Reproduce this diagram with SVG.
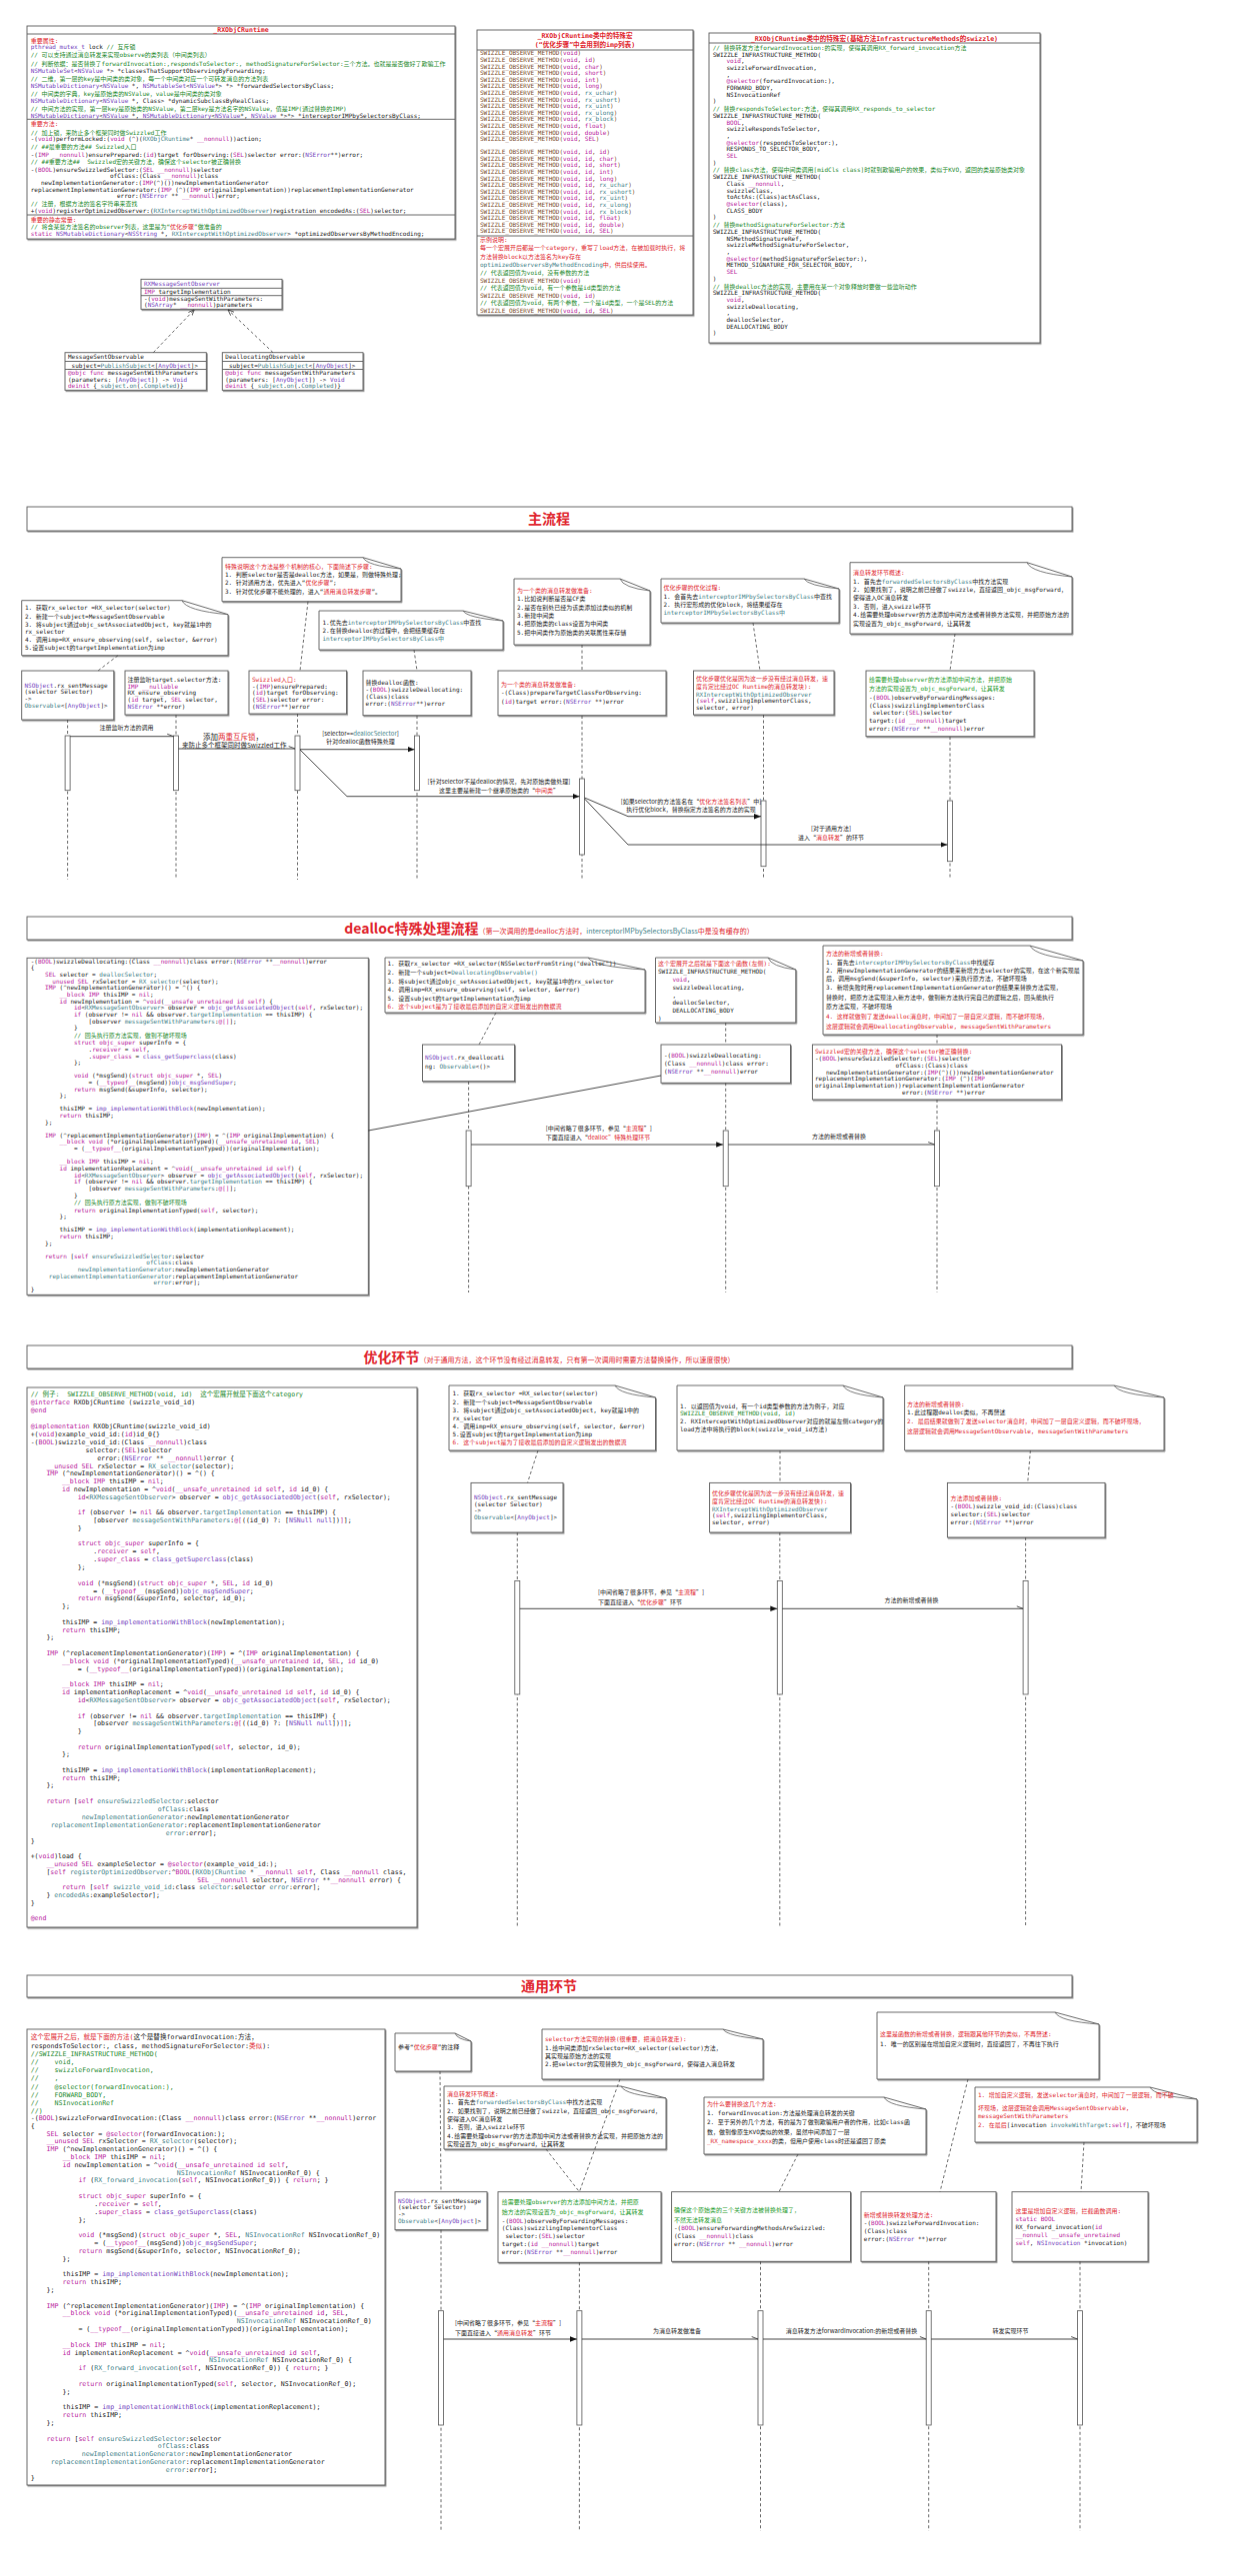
<svg xmlns="http://www.w3.org/2000/svg" width="1240" height="2577" viewBox="0 0 1240 2577">
<defs>
<style>
text{font-family:"DejaVu Sans Mono","Noto Sans CJK SC",monospace;font-size:6px;fill:#1a1a1a}
.bx{fill:#fff;stroke:#5a5a5a;stroke-width:0.9;filter:url(#sh)}
.dv{stroke:#5a5a5a;stroke-width:0.9}
.k{fill:#b8229d}.t{fill:#7443bd}.u{fill:#3f7f89}.c{fill:#23892c}.r{fill:#e0252d}.b{fill:#7a4a2a}.g{fill:#1c9a2a}
.tt{font-weight:bold;fill:#e0252d;font-size:6.6px}
.sec{font-family:"Noto Sans CJK SC","DejaVu Sans",sans-serif;font-weight:bold;fill:#e0252d;font-size:14px}
.ss{font-family:"Noto Sans CJK SC","DejaVu Sans",sans-serif;font-size:7px;fill:#e0252d}
.lb{font-family:"Noto Sans CJK SC","DejaVu Sans",sans-serif;font-size:6px;fill:#222}
.c65 text{font-size:6.5px}
.c66 text{font-size:6.6px}
.ll{stroke:#444;stroke-width:0.8;stroke-dasharray:3 2.5;fill:none}
.ac{fill:#fff;stroke:#555;stroke-width:0.8}
.msg{stroke:#333;stroke-width:0.9;fill:none}
.fold{fill:none;stroke:#5a5a5a;stroke-width:0.8}
</style>
<filter id="sh" x="-3%" y="-3%" width="106%" height="110%"><feDropShadow dx="1" dy="1.2" stdDeviation="0.5" flood-color="#666" flood-opacity="0.7"/></filter>
<marker id="fa" viewBox="0 0 10 10" refX="10" refY="5" markerWidth="7" markerHeight="7" markerUnits="userSpaceOnUse" orient="auto"><path d="M0,1 L10,5 L0,9 z" fill="#111"/></marker>
<marker id="oa" viewBox="0 0 10 10" refX="10" refY="5" markerWidth="7" markerHeight="7" markerUnits="userSpaceOnUse" orient="auto"><path d="M1,1.5 L10,5" fill="none" stroke="#333" stroke-width="1.2"/></marker>
<marker id="ho" viewBox="0 0 10 10" refX="10" refY="5" markerWidth="6" markerHeight="6" markerUnits="userSpaceOnUse" orient="auto"><path d="M0,1 L10,5 L0,9" fill="none" stroke="#333" stroke-width="1.3"/></marker>
</defs>
<rect width="1240" height="2577" fill="#fff"/>

<g id="runtime-class">
<rect class="bx" x="27" y="26" width="428" height="213"/>
<line class="dv" x1="27" y1="34" x2="455" y2="34"/>
<line class="dv" x1="27" y1="119.3" x2="455" y2="119.3"/>
<line class="dv" x1="27" y1="215" x2="455" y2="215"/>
<text class="tt" x="241" y="32.3" text-anchor="middle">_RXObjCRuntime</text>
<text x="30.7" y="42.7" class="r">重要属性:</text>
<text x="30.7" y="48.7"><tspan class="t">pthread_mutex_t</tspan> lock <tspan class="c">// 互斥锁</tspan></text>
<text x="30.7" y="57" class="c">// 可以支持通过消息转发来实现observe的类列表（中间类列表）</text>
<text x="30.7" y="66" class="c">// 判断依据：是否替换了forwardInvocation:,respondsToSelector:, methodSignatureForSelector:三个方法。也就是是否做好了欺骗工作</text>
<text x="30.7" y="73.3"><tspan class="t">NSMutableSet</tspan>&lt;<tspan class="t">NSValue</tspan> *&gt; *classesThatSupportObservingByForwarding;</text>
<text x="30.7" y="80.7" class="c">// 二维，第一层的key是中间类的类对象，每一个中间类对应一个可转发消息的方法列表</text>
<text x="30.7" y="88.3"><tspan class="t">NSMutableDictionary</tspan>&lt;<tspan class="t">NSValue</tspan> *, <tspan class="t">NSMutableSet</tspan>&lt;<tspan class="t">NSValue</tspan>*&gt; *&gt; *forwardedSelectorsByClass;</text>
<text x="30.7" y="95.7" class="c">// 中间类的字典，key是原始类的NSValue，value是中间类的类对象</text>
<text x="30.7" y="103.3"><tspan class="t">NSMutableDictionary</tspan>&lt;<tspan class="t">NSValue</tspan> *, Class&gt; *dynamicSubclassByRealClass;</text>
<text x="30.7" y="110.7" class="c">// 中间方法的实现，第一层key是原始类的NSValue，第二层key是方法名字的NSValue，值是IMP(通过替换的IMP)</text>
<text x="30.7" y="117.8"><tspan class="t">NSMutableDictionary</tspan>&lt;<tspan class="t">NSValue</tspan> *, <tspan class="t">NSMutableDictionary</tspan>&lt;<tspan class="t">NSValue</tspan>*, <tspan class="t">NSValue</tspan> *&gt;*&gt; *interceptorIMPbySelectorsByClass;</text>
<text x="30.7" y="126.3" class="r">重要方法:</text>
<text x="30.7" y="134.7" class="c">// 加上锁，来防止多个框架同时做Swizzled工作</text>
<text x="30.7" y="141.3">-(<tspan class="k">void</tspan>)performLocked:(<tspan class="k">void</tspan> (^)(<tspan class="u">RXObjCRuntime</tspan>* <tspan class="k">__nonnull</tspan>))action;</text>
<text x="30.7" y="149" class="c">// ##最重要的方法## Swizzled入口</text>
<text x="30.7" y="156.7">-(<tspan class="k">IMP __nonnull</tspan>)ensurePrepared:(<tspan class="k">id</tspan>)target forObserving:(<tspan class="k">SEL</tspan>)selector error:(<tspan class="t">NSError</tspan>**)error;</text>
<text x="30.7" y="164.3" class="c">// ##重要方法##&#160;&#160;Swizzled宏的关键方法，确保这个selector被正确替换</text>
<text x="30.7" y="171.7">-(<tspan class="k">BOOL</tspan>)ensureSwizzledSelector:(<tspan class="k">SEL __nonnull</tspan>)selector</text>
<text x="110" y="178.3">ofClass:(Class <tspan class="k">__nonnull</tspan>)class</text>
<text x="41" y="185">newImplementationGenerator:(<tspan class="k">IMP</tspan>(^)())newImplementationGenerator</text>
<text x="30.7" y="191.7">replacementImplementationGenerator:(<tspan class="k">IMP</tspan> (^)(<tspan class="k">IMP</tspan> originalImplementation))replacementImplementationGenerator</text>
<text x="117" y="198.3">error:(<tspan class="t">NSError</tspan> ** <tspan class="k">__nonnull</tspan>)error;</text>
<text x="30.7" y="205.7" class="c">// 注册，根据方法的签名字符串来查找</text>
<text x="30.7" y="213">+(<tspan class="k">void</tspan>)registerOptimizedObserver:(<tspan class="u">RXInterceptWithOptimizedObserver</tspan>)registration encodedAs:(<tspan class="k">SEL</tspan>)selector;</text>
<text x="30.7" y="222" class="r">重要的静态常量:</text>
<text x="30.7" y="229" class="c">// 将含某些方法签名的observer列表，这里是为“<tspan class="r">优化步骤</tspan>”做准备的</text>
<text x="30.7" y="236.3"><tspan class="k">static</tspan> <tspan class="t">NSMutableDictionary</tspan>&lt;<tspan class="t">NSString</tspan> *, <tspan class="u">RXInterceptWithOptimizedObserver</tspan>&gt; *optimizedObserversByMethodEncoding;</text>
</g>

<g id="observe-macros">
<rect class="bx" x="477" y="30" width="216" height="285"/>
<line class="dv" x1="477" y1="50" x2="693" y2="50"/>
<line class="dv" x1="477" y1="236" x2="693" y2="236"/>
<text class="tt" x="585" y="37.6" text-anchor="middle">_RXObjCRuntime类中的特殊宏</text>
<text class="tt" x="585" y="47.4" text-anchor="middle">(“优化步骤”中会用到的imp列表)</text>
<text x="480" y="55.3" class="b">SWIZZLE_OBSERVE_METHOD(<tspan class="k">void</tspan>)</text>
<text x="480" y="61.9" class="b">SWIZZLE_OBSERVE_METHOD(<tspan class="k">void</tspan>, <tspan class="k">id</tspan>)</text>
<text x="480" y="68.5" class="b">SWIZZLE_OBSERVE_METHOD(<tspan class="k">void</tspan>, <tspan class="k">char</tspan>)</text>
<text x="480" y="75.1" class="b">SWIZZLE_OBSERVE_METHOD(<tspan class="k">void</tspan>, <tspan class="k">short</tspan>)</text>
<text x="480" y="81.7" class="b">SWIZZLE_OBSERVE_METHOD(<tspan class="k">void</tspan>, <tspan class="k">int</tspan>)</text>
<text x="480" y="88.3" class="b">SWIZZLE_OBSERVE_METHOD(<tspan class="k">void</tspan>, <tspan class="k">long</tspan>)</text>
<text x="480" y="94.9" class="b">SWIZZLE_OBSERVE_METHOD(<tspan class="k">void</tspan>, <tspan class="u">rx_uchar</tspan>)</text>
<text x="480" y="101.5" class="b">SWIZZLE_OBSERVE_METHOD(<tspan class="k">void</tspan>, <tspan class="u">rx_ushort</tspan>)</text>
<text x="480" y="108.1" class="b">SWIZZLE_OBSERVE_METHOD(<tspan class="k">void</tspan>, <tspan class="u">rx_uint</tspan>)</text>
<text x="480" y="114.7" class="b">SWIZZLE_OBSERVE_METHOD(<tspan class="k">void</tspan>, <tspan class="u">rx_ulong</tspan>)</text>
<text x="480" y="121.3" class="b">SWIZZLE_OBSERVE_METHOD(<tspan class="k">void</tspan>, <tspan class="u">rx_block</tspan>)</text>
<text x="480" y="127.9" class="b">SWIZZLE_OBSERVE_METHOD(<tspan class="k">void</tspan>, <tspan class="k">float</tspan>)</text>
<text x="480" y="134.5" class="b">SWIZZLE_OBSERVE_METHOD(<tspan class="k">void</tspan>, <tspan class="k">double</tspan>)</text>
<text x="480" y="141.1" class="b">SWIZZLE_OBSERVE_METHOD(<tspan class="k">void</tspan>, <tspan class="k">SEL</tspan>)</text>
<text x="480" y="154" class="b">SWIZZLE_OBSERVE_METHOD(<tspan class="k">void</tspan>, <tspan class="k">id</tspan>, <tspan class="k">id</tspan>)</text>
<text x="480" y="160.6" class="b">SWIZZLE_OBSERVE_METHOD(<tspan class="k">void</tspan>, <tspan class="k">id</tspan>, <tspan class="k">char</tspan>)</text>
<text x="480" y="167.2" class="b">SWIZZLE_OBSERVE_METHOD(<tspan class="k">void</tspan>, <tspan class="k">id</tspan>, <tspan class="k">short</tspan>)</text>
<text x="480" y="173.8" class="b">SWIZZLE_OBSERVE_METHOD(<tspan class="k">void</tspan>, <tspan class="k">id</tspan>, <tspan class="k">int</tspan>)</text>
<text x="480" y="180.5" class="b">SWIZZLE_OBSERVE_METHOD(<tspan class="k">void</tspan>, <tspan class="k">id</tspan>, <tspan class="k">long</tspan>)</text>
<text x="480" y="187.1" class="b">SWIZZLE_OBSERVE_METHOD(<tspan class="k">void</tspan>, <tspan class="k">id</tspan>, <tspan class="u">rx_uchar</tspan>)</text>
<text x="480" y="193.7" class="b">SWIZZLE_OBSERVE_METHOD(<tspan class="k">void</tspan>, <tspan class="k">id</tspan>, <tspan class="u">rx_ushort</tspan>)</text>
<text x="480" y="200.3" class="b">SWIZZLE_OBSERVE_METHOD(<tspan class="k">void</tspan>, <tspan class="k">id</tspan>, <tspan class="u">rx_uint</tspan>)</text>
<text x="480" y="206.9" class="b">SWIZZLE_OBSERVE_METHOD(<tspan class="k">void</tspan>, <tspan class="k">id</tspan>, <tspan class="u">rx_ulong</tspan>)</text>
<text x="480" y="213.5" class="b">SWIZZLE_OBSERVE_METHOD(<tspan class="k">void</tspan>, <tspan class="k">id</tspan>, <tspan class="u">rx_block</tspan>)</text>
<text x="480" y="220.1" class="b">SWIZZLE_OBSERVE_METHOD(<tspan class="k">void</tspan>, <tspan class="k">id</tspan>, <tspan class="k">float</tspan>)</text>
<text x="480" y="226.7" class="b">SWIZZLE_OBSERVE_METHOD(<tspan class="k">void</tspan>, <tspan class="k">id</tspan>, <tspan class="k">double</tspan>)</text>
<text x="480" y="233.3" class="b">SWIZZLE_OBSERVE_METHOD(<tspan class="k">void</tspan>, <tspan class="k">id</tspan>, <tspan class="k">SEL</tspan>)</text>
<text x="480" y="242.2" class="r">示例说明:</text>
<text x="480" y="250.4" class="r">每一个宏展开后都是一个category，重写了load方法，在被加载时执行，将</text>
<text x="480" y="258.7" class="r">方法替换block以方法签名为key存在</text>
<text x="480" y="267"><tspan class="u">optimizedObserversByMethodEncoding</tspan><tspan class="r">中，供后续使用。</tspan></text>
<text x="480" y="275.3" class="c">// 代表返回值为void，没有参数的方法</text>
<text x="480" y="282.7" class="b">SWIZZLE_OBSERVE_METHOD(<tspan class="k">void</tspan>)</text>
<text x="480" y="290.3" class="c">// 代表返回值为void，有一个参数是id类型的方法</text>
<text x="480" y="297.7" class="b">SWIZZLE_OBSERVE_METHOD(<tspan class="k">void</tspan>, <tspan class="k">id</tspan>)</text>
<text x="480" y="305.3" class="c">// 代表返回值为void，有两个参数，一个是id类型，一个是SEL的方法</text>
<text x="480" y="312.7" class="b">SWIZZLE_OBSERVE_METHOD(<tspan class="k">void</tspan>, <tspan class="k">id</tspan>, <tspan class="k">SEL</tspan>)</text>
</g>

<g id="infrastructure-macros">
<rect class="bx" x="709" y="33" width="331" height="310"/>
<line class="dv" x1="709" y1="43" x2="1040" y2="43"/>
<text class="tt" x="874.5" y="40.6" text-anchor="middle">_RXObjCRuntime类中的特殊宏(基础方法InfrastructureMethods的swizzle)</text>
<text x="712.7" y="50" class="c">// 替换转发方法forwardInvocation:的实现，使得其调用RX_forward_invocation方法</text>
<text x="712.7" y="56.7">SWIZZLE_INFRASTRUCTURE_METHOD(</text>
<text x="726.5" y="63.3"><tspan class="k">void</tspan>,</text>
<text x="726.5" y="70">swizzleForwardInvocation,</text>
<text x="726.5" y="76.7">,</text>
<text x="726.5" y="83.3"><tspan class="k">@selector</tspan>(forwardInvocation:),</text>
<text x="726.5" y="90">FORWARD_BODY,</text>
<text x="726.5" y="96.7">NSInvocationRef</text>
<text x="712.7" y="103.3">)</text>
<text x="712.7" y="111" class="c">// 替换respondsToSelector:方法，使得其调用RX_responds_to_selector</text>
<text x="712.7" y="118">SWIZZLE_INFRASTRUCTURE_METHOD(</text>
<text x="726.5" y="124.7"><tspan class="k">BOOL</tspan>,</text>
<text x="726.5" y="131.3">swizzleRespondsToSelector,</text>
<text x="726.5" y="138">,</text>
<text x="726.5" y="144.7"><tspan class="k">@selector</tspan>(respondsToSelector:),</text>
<text x="726.5" y="151.3">RESPONDS_TO_SELECTOR_BODY,</text>
<text x="726.5" y="158" class="k">SEL</text>
<text x="712.7" y="164.7">)</text>
<text x="712.7" y="172.3" class="c">// 替换class方法，使得中间类调用[midCls class]时就到欺骗用户的效果，类似于KVO，返回的类是原始类对象</text>
<text x="712.7" y="179.3">SWIZZLE_INFRASTRUCTURE_METHOD(</text>
<text x="726.5" y="186">Class <tspan class="k">__nonnull</tspan>,</text>
<text x="726.5" y="192.7">swizzleClass,</text>
<text x="726.5" y="199.3">toActAs:(Class)actAsClass,</text>
<text x="726.5" y="206"><tspan class="k">@selector</tspan>(class),</text>
<text x="726.5" y="212.7">CLASS_BODY</text>
<text x="712.7" y="219.3">)</text>
<text x="712.7" y="227" class="c">// 替换methodSignatureForSelector:方法</text>
<text x="712.7" y="234">SWIZZLE_INFRASTRUCTURE_METHOD(</text>
<text x="726.5" y="240.7">NSMethodSignatureRef,</text>
<text x="726.5" y="247.3">swizzleMethodSignatureForSelector,</text>
<text x="726.5" y="254">,</text>
<text x="726.5" y="260.7"><tspan class="k">@selector</tspan>(methodSignatureForSelector:),</text>
<text x="726.5" y="267.3">METHOD_SIGNATURE_FOR_SELECTOR_BODY,</text>
<text x="726.5" y="274" class="k">SEL</text>
<text x="712.7" y="280.7">)</text>
<text x="712.7" y="288.7" class="c">// 替换dealloc方法的实现，主要用在某一个对象释放时要做一些监听动作</text>
<text x="712.7" y="295.3">SWIZZLE_INFRASTRUCTURE_METHOD(</text>
<text x="726.5" y="302"><tspan class="k">void</tspan>,</text>
<text x="726.5" y="308.7">swizzleDeallocating,</text>
<text x="726.5" y="315.3">,</text>
<text x="726.5" y="322">deallocSelector,</text>
<text x="726.5" y="328.7">DEALLOCATING_BODY</text>
<text x="712.7" y="335.3">)</text>
</g>

<g id="observer-protocol">
<rect class="bx" x="141" y="279.3" width="141" height="30"/>
<line class="dv" x1="141" y1="288.3" x2="282" y2="288.3"/>
<line class="dv" x1="141" y1="295.7" x2="282" y2="295.7"/>
<text x="144" y="286" class="t">RXMessageSentObserver</text>
<text x="144" y="294"><tspan class="k">IMP</tspan> targetImplementation</text>
<text x="144" y="300.7">-(<tspan class="k">void</tspan>)messageSentWithParameters:</text>
<text x="144" y="307">(<tspan class="t">NSArray</tspan>* <tspan class="k">__nonnull</tspan>)parameters</text>
</g>
<g id="message-sent-observable">
<rect class="bx" x="65" y="352.7" width="141.3" height="37.6"/>
<line class="dv" x1="65" y1="361.5" x2="206.3" y2="361.5"/>
<line class="dv" x1="65" y1="369.5" x2="206.3" y2="369.5"/>
<text x="68" y="359.2" fill="#a884d4">MessageSentObservable</text>
<text x="68" y="367.8">_subject=<tspan class="u">PublishSubject</tspan>&lt;[<tspan class="t">AnyObject</tspan>]&gt;</text>
<text x="68" y="375.3"><tspan class="k">@objc func</tspan> messageSentWithParameters</text>
<text x="68" y="381.7">(parameters: [<tspan class="t">AnyObject</tspan>]) -&gt; <tspan class="t">Void</tspan></text>
<text x="68" y="388.3"><tspan class="k">deinit</tspan> {<tspan class="u">_subject</tspan>.<tspan class="u">on</tspan>(.<tspan class="u">Completed</tspan>)}</text>
</g>
<g id="deallocating-observable">
<rect class="bx" x="222.3" y="352.7" width="140.7" height="37.6"/>
<line class="dv" x1="222.3" y1="361.5" x2="363" y2="361.5"/>
<line class="dv" x1="222.3" y1="369.5" x2="363" y2="369.5"/>
<text x="225.3" y="359.2" fill="#a884d4">DeallocatingObservable</text>
<text x="225.3" y="367.8">_subject=<tspan class="u">PublishSubject</tspan>&lt;[<tspan class="t">AnyObject</tspan>]&gt;</text>
<text x="225.3" y="375.3"><tspan class="k">@objc func</tspan> messageSentWithParameters</text>
<text x="225.3" y="381.7">(parameters: [<tspan class="t">AnyObject</tspan>]) -&gt; <tspan class="t">Void</tspan></text>
<text x="225.3" y="388.3"><tspan class="k">deinit</tspan> {<tspan class="u">_subject</tspan>.<tspan class="u">on</tspan>(.<tspan class="u">Completed</tspan>)}</text>
</g>

<g id="bar-main">
<rect class="bx" x="27" y="507" width="1045" height="24"/>
<text class="sec" x="549" y="524" text-anchor="middle">主流程</text>
</g>
<g id="note-main-1">
<path class="bx" d="M21.7 600.7 H182 L228 614.7 V655.7 H21.7 Z"/><path class="fold" d="M182 600.7 Q186 611 228 614.7"/>
<text x="25" y="610.3">1. 获取rx_selector =RX_selector(selector)</text>
<text x="25" y="618.7">2. 新建一个subject=MessageSentObservable</text>
<text x="25" y="627">3. 将subject通过objc_setAssociatedObject, key就是1中的</text>
<text x="25" y="634.3">rx_selector</text>
<text x="25" y="642">4. 调用imp=RX_ensure_observing(self, selector, &amp;error)</text>
<text x="25" y="650.3">5.设置subject的targetImplementation为imp</text>
</g>
<g id="node-rx-sentMessage">
<rect class="bx" x="21.7" y="671" width="92.1" height="49"/>
<text x="24.5" y="687.7"><tspan class="t">NSObject</tspan>.rx_sentMessage</text>
<text x="24.5" y="694.3">(selector Selector)</text>
<text x="24.5" y="701">-&gt;</text>
<text x="24.5" y="707.7"><tspan class="u">Observable</tspan>&lt;[<tspan class="t">AnyObject</tspan>]&gt;</text>
</g>
<g id="node-ensure-observing">
<rect class="bx" x="125" y="671" width="103" height="44"/>
<text x="127.5" y="682">注册监听target.selector方法:</text>
<text x="127.5" y="688.7" class="k">IMP __nullable</text>
<text x="127.5" y="695.3">RX_ensure_observing</text>
<text x="127.5" y="702">(<tspan class="k">id</tspan> target, <tspan class="k">SEL</tspan> selector,</text>
<text x="127.5" y="708.7"><tspan class="t">NSError</tspan> **error)</text>
</g>
<g id="note-main-2">
<path class="bx" d="M222 557.7 H363 L401 569 V601.7 H222 Z"/><path class="fold" d="M363 557.7 Q367 566 401 569"/>
<text x="225" y="568.7" class="r">特殊说明这个方法是整个机制的核心，下面简述下步骤:</text>
<text x="225" y="577">1. 判断selector是否是dealloc方法，如果是，则做特殊处理;</text>
<text x="225" y="585.3">2. 针对通用方法，优先进入“<tspan class="r">优化步骤</tspan>”;</text>
<text x="225" y="593.7">3. 针对优化步骤不能处理的，进入“<tspan class="r">通用消息转发步骤</tspan>”。</text>
</g>
<g id="node-ensure-prepared">
<rect class="bx" x="249" y="671" width="97.6" height="43"/>
<text x="252" y="682" class="r">Swizzled入口:</text>
<text x="252" y="688.7">-(<tspan class="k">IMP</tspan>)ensurePrepared:</text>
<text x="252" y="695.3">(<tspan class="k">id</tspan>)target forObserving:</text>
<text x="252" y="702">(<tspan class="k">SEL</tspan>)selector error:</text>
<text x="252" y="708.7">(<tspan class="t">NSError</tspan>**)error</text>
</g>
<g id="note-main-3">
<path class="bx" d="M319 611 H463 L503 621 V650 H319 Z"/><path class="fold" d="M463 611 Q467 618 503 621"/>
<text x="322.5" y="624.7">1.优先去<tspan class="u">interceptorIMPbySelectorsByClass</tspan>中查找</text>
<text x="322.5" y="633">2.在替换dealloc的过程中，会把结果缓存在</text>
<text x="322.5" y="641.3" class="u">interceptorIMPbySelectorsByClass中</text>
</g>
<g id="node-swizzle-dealloc">
<rect class="bx" x="363" y="671" width="108" height="44.7"/>
<text x="365.6" y="685.3">替换dealloc函数:</text>
<text x="365.6" y="692.3">-(<tspan class="k">BOOL</tspan>)swizzleDeallocating:</text>
<text x="365.6" y="699">(Class)class</text>
<text x="365.6" y="705.7">error:(<tspan class="t">NSError</tspan>**)error</text>
</g>
<g id="note-main-4">
<path class="bx" d="M514 579 H620 L650 591 V645 H514 Z"/><path class="fold" d="M620 579 Q623 588 650 591"/>
<text x="517" y="593" class="r">为一个类的消息转发做准备:</text>
<text x="517" y="601.3">1.比如说判断是否是CF类</text>
<text x="517" y="609.7">2.是否在别处已经为该类添加过类似的机制</text>
<text x="517" y="618">3.新建中间类</text>
<text x="517" y="626.3">4.把原始类的class设置为中间类</text>
<text x="517" y="634.7">5.把中间类作为原始类的关联属性来存储</text>
</g>
<g id="node-prepare-class">
<rect class="bx" x="498" y="671" width="168" height="44.7"/>
<text x="501" y="687" class="r">为一个类的消息转发做准备:</text>
<text x="501" y="695.3">-(Class)prepareTargetClassForObserving:</text>
<text x="501" y="703.7">(<tspan class="k">id</tspan>)target error:(<tspan class="t">NSError</tspan> **)error</text>
</g>
<g id="note-main-5">
<path class="bx" d="M661 579 H804 L839 589 V623 H661 Z"/><path class="fold" d="M804 579 Q808 586 839 589"/>
<text x="663.5" y="590.3" class="r">优化步骤的优化过程:</text>
<text x="663.5" y="598.7">1. 会首先去<tspan class="u">interceptorIMPbySelectorsByClass</tspan>中查找</text>
<text x="663.5" y="607">2. 执行宏形成的优化block，将结果缓存在</text>
<text x="663.5" y="615.3" class="u">interceptorIMPbySelectorsByClass中</text>
</g>
<g id="node-optimized">
<rect class="bx" x="693.5" y="671" width="140.5" height="44"/>
<text x="696" y="681.3" class="r">优化步骤优化是因为这一步没有经过消息转发，速</text>
<text x="696" y="689.3" class="r">度肯定比经过OC Runtime的消息转发块):</text>
<text x="696" y="696.7" class="u">RXInterceptWithOptimizedObserver</text>
<text x="696" y="703.3">(<tspan class="k">self</tspan>,swizzlingImplementorClass,</text>
<text x="696" y="710">selector, error)</text>
</g>
<g id="note-main-6">
<path class="bx" d="M850 562.7 H1027 L1072 577 V634 H850 Z"/><path class="fold" d="M1027 562.7 Q1031 573 1072 577"/>
<text x="853" y="574.7" class="r">消息转发环节概述:</text>
<text x="853" y="583.7">1. 首先去<tspan class="u">forwardedSelectorsByClass</tspan>中找方法实现</text>
<text x="853" y="592">2. 如果找到了，说明之前已经做了swizzle，直接返回_objc_msgForward，</text>
<text x="853" y="600.3">使得进入OC消息转发</text>
<text x="853" y="608.7">3. 否则，进入swizzle环节</text>
<text x="853" y="617.3">4.给需要处理observer的方法添加中间方法或者替换方法实现，并把原始方法的</text>
<text x="853" y="626">实现设置为_objc_msgForward，让其转发</text>
</g>
<g id="node-forwarding">
<rect class="bx" x="866" y="671" width="168" height="65.7"/>
<text x="869" y="682" class="g">给需要处理observer的方法添加中间方法，并把原始</text>
<text x="869" y="691.3" class="g">方法的实现设置为_objc_msgForward，让其转发</text>
<text x="869" y="699.7">-(<tspan class="k">BOOL</tspan>)observeByForwardingMessages:</text>
<text x="869" y="707.7">(Class)swizzlingImplementorClass</text>
<text x="872.6" y="715.3">selector:(<tspan class="k">SEL</tspan>)selector</text>
<text x="869" y="723.3">target:(<tspan class="k">id __nonnull</tspan>)target</text>
<text x="869" y="731">error:(<tspan class="t">NSError</tspan> **<tspan class="k">__nonnull</tspan>)error</text>
</g>

<g id="bar-dealloc">
<rect class="bx" x="27" y="917" width="1045" height="23"/>
<text x="549" y="933.5" text-anchor="middle"><tspan class="sec">dealloc特殊处理流程</tspan><tspan class="ss">（第一次调用的是dealloc方法时，</tspan><tspan class="ss" style="fill:#3f7f89">interceptorIMPbySelectorsByClass</tspan><tspan class="ss">中是没有缓存的）</tspan></text>
</g>
<g id="code-dealloc">
<rect class="bx" x="27" y="958.3" width="341.3" height="337"/>
<text x="30.7" y="963.7">-(<tspan class="k">BOOL</tspan>)swizzleDeallocating:(Class <tspan class="k">__nonnull</tspan>)class error:(<tspan class="t">NSError</tspan> **<tspan class="k">__nonnull</tspan>)error</text>
<text x="30.7" y="970.3">{</text>
<text x="45.1" y="977"><tspan class="k">SEL</tspan> selector = <tspan class="u">deallocSelector</tspan>;</text>
<text x="45.1" y="983.7"><tspan class="k">__unused SEL</tspan> rxSelector = <tspan class="u">RX_selector</tspan>(selector);</text>
<text x="45.1" y="990.3"><tspan class="k">IMP</tspan> (^newImplementationGenerator)() = ^() {</text>
<text x="59.6" y="997"><tspan class="k">__block IMP</tspan> thisIMP = <tspan class="k">nil</tspan>;</text>
<text x="59.6" y="1003.7"><tspan class="k">id</tspan> newImplementation = ^<tspan class="k">void</tspan>(<tspan class="k">__unsafe_unretained id self</tspan>) {</text>
<text x="74" y="1010.3"><tspan class="k">id</tspan>&lt;<tspan class="u">RXMessageSentObserver</tspan>&gt; observer = <tspan class="t">objc_getAssociatedObject</tspan>(<tspan class="k">self</tspan>, rxSelector);</text>
<text x="74" y="1017"><tspan class="k">if</tspan> (observer != <tspan class="k">nil</tspan> &amp;&amp; observer.<tspan class="u">targetImplementation</tspan> == thisIMP) {</text>
<text x="88.5" y="1023.7">[observer <tspan class="u">messageSentWithParameters</tspan>:<tspan class="k">@[]</tspan>];</text>
<text x="74" y="1030.3">}</text>
<text x="74" y="1038" class="c">// 回头执行原方法实现，做到不破坏现场</text>
<text x="74" y="1045.3"><tspan class="k">struct objc_super</tspan> superInfo = {</text>
<text x="88.5" y="1052">.<tspan class="k">receiver</tspan> = <tspan class="k">self</tspan>,</text>
<text x="88.5" y="1058.7">.<tspan class="k">super_class</tspan> = <tspan class="t">class_getSuperclass</tspan>(class)</text>
<text x="74" y="1065.3">};</text>
<text x="74" y="1078.3"><tspan class="k">void</tspan> (*msgSend)(<tspan class="k">struct objc_super</tspan> *, <tspan class="k">SEL</tspan>)</text>
<text x="88.5" y="1085">= (<tspan class="k">__typeof__</tspan>(msgSend))<tspan class="t">objc_msgSendSuper</tspan>;</text>
<text x="74" y="1091.7"><tspan class="k">return</tspan> msgSend(&amp;superInfo, selector);</text>
<text x="59.6" y="1098.3">};</text>
<text x="59.6" y="1111.3">thisIMP = <tspan class="t">imp_implementationWithBlock</tspan>(newImplementation);</text>
<text x="59.6" y="1118"><tspan class="k">return</tspan> thisIMP;</text>
<text x="45.1" y="1124.7">};</text>
<text x="45.1" y="1137.7"><tspan class="k">IMP</tspan> (^replacementImplementationGenerator)(<tspan class="k">IMP</tspan>) = ^(<tspan class="k">IMP</tspan> originalImplementation) {</text>
<text x="59.6" y="1144.3"><tspan class="k">__block void</tspan> (*originalImplementationTyped)(<tspan class="k">__unsafe_unretained id</tspan>, <tspan class="k">SEL</tspan>)</text>
<text x="74" y="1151">= (<tspan class="k">__typeof__</tspan>(originalImplementationTyped))(originalImplementation);</text>
<text x="59.6" y="1164.3"><tspan class="k">__block IMP</tspan> thisIMP = <tspan class="k">nil</tspan>;</text>
<text x="59.6" y="1171"><tspan class="k">id</tspan> implementationReplacement = ^<tspan class="k">void</tspan>(<tspan class="k">__unsafe_unretained id self</tspan>) {</text>
<text x="74" y="1177.7"><tspan class="k">id</tspan>&lt;<tspan class="u">RXMessageSentObserver</tspan>&gt; observer = <tspan class="t">objc_getAssociatedObject</tspan>(<tspan class="k">self</tspan>, rxSelector);</text>
<text x="74" y="1184.3"><tspan class="k">if</tspan> (observer != <tspan class="k">nil</tspan> &amp;&amp; observer.<tspan class="u">targetImplementation</tspan> == thisIMP) {</text>
<text x="88.5" y="1191">[observer <tspan class="u">messageSentWithParameters</tspan>:<tspan class="k">@[]</tspan>];</text>
<text x="74" y="1197.7">}</text>
<text x="74" y="1205.3" class="c">// 回头执行原方法实现，做到不破坏现场</text>
<text x="74" y="1212.7"><tspan class="k">return</tspan> originalImplementationTyped(<tspan class="k">self</tspan>, selector);</text>
<text x="59.6" y="1219.3">};</text>
<text x="59.6" y="1232.3">thisIMP = <tspan class="t">imp_implementationWithBlock</tspan>(implementationReplacement);</text>
<text x="59.6" y="1239"><tspan class="k">return</tspan> thisIMP;</text>
<text x="45.1" y="1245.7">};</text>
<text x="45.1" y="1258.7"><tspan class="k">return</tspan> [<tspan class="k">self</tspan> <tspan class="u">ensureSwizzledSelector</tspan>:selector</text>
<text x="146.3" y="1265.3"><tspan class="u">ofClass</tspan>:class</text>
<text x="77.7" y="1272"><tspan class="u">newImplementationGenerator</tspan>:newImplementationGenerator</text>
<text x="48.8" y="1278.7"><tspan class="u">replacementImplementationGenerator</tspan>:replacementImplementationGenerator</text>
<text x="153.5" y="1285.3"><tspan class="u">error</tspan>:error];</text>
<text x="30.7" y="1292">}</text>
</g>
<g id="note-dealloc-1">
<path class="bx" d="M385 958 H588 L645 970 V1013 H385 Z"/><path class="fold" d="M588 958 Q593 967 645 970"/>
<text x="387.5" y="966">1. 获取rx_selector =RX_selector(NSSelectorFromString("dealloc"))</text>
<text x="387.5" y="974.7">2. 新建一个subject=<tspan class="u">DeallocatingObservable()</tspan></text>
<text x="387.5" y="983.7">3. 将subject通过objc_setAssociatedObject, key就是1中的rx_selector</text>
<text x="387.5" y="992.3">4. 调用imp=RX_ensure_observing(self, selector, &amp;error)</text>
<text x="387.5" y="1000.7">5. 设置subject的targetImplementation为imp</text>
<text x="387.5" y="1009" class="r">6. 这个subject是为了接收最后添加的自定义逻辑发出的数据流</text>
</g>
<g id="node-rx-deallocating">
<rect class="bx" x="422.5" y="1045" width="92.1" height="36.7"/>
<text x="425" y="1060.3"><tspan class="t">NSObject</tspan>.rx_deallocati</text>
<text x="425" y="1068.7">ng: <tspan class="u">Observable</tspan>&lt;()&gt;</text>
</g>
<g id="note-dealloc-2">
<path class="bx" d="M655.5 958 H768 L795.8 970 V1023 H655.5 Z"/><path class="fold" d="M768 958 Q771 967 795.8 970"/>
<text x="658" y="966" class="r">这个宏展开之后就是下面这个函数(左侧):</text>
<text x="658" y="974">SWIZZLE_INFRASTRUCTURE_METHOD(</text>
<text x="672.4" y="982" class="k">void<tspan style="fill:#1a1a1a">,</tspan></text>
<text x="672.4" y="989.7">swizzleDeallocating,</text>
<text x="672.4" y="997.7">,</text>
<text x="672.4" y="1005.3">deallocSelector,</text>
<text x="672.4" y="1013">DEALLOCATING_BODY</text>
<text x="658" y="1020.7">)</text>
</g>
<g id="node-swizzle-deallocating">
<rect class="bx" x="661" y="1045" width="129.5" height="38.3"/>
<text x="664" y="1058">-(<tspan class="k">BOOL</tspan>)swizzleDeallocating:</text>
<text x="664" y="1065.7">(Class <tspan class="k">__nonnull</tspan>)class error:</text>
<text x="664" y="1073.7">(<tspan class="t">NSError</tspan> **<tspan class="k">__nonnull</tspan>)error</text>
</g>
<g id="note-dealloc-3">
<path class="bx" d="M823 946 H1030 L1083 961 V1035 H823 Z"/><path class="fold" d="M1030 946 Q1035 957 1083 961"/>
<text x="826" y="956" class="r">方法的新增或者替换:</text>
<text x="826" y="964.7">1. 首先去<tspan class="u">interceptorIMPbySelectorsByClass</tspan>中找缓存</text>
<text x="826" y="973">2. 用newImplementationGenerator的结果来新增方法selector的实现，在这个新实现最</text>
<text x="826" y="981.3">后，调用msgSend(&amp;superInfo, selector)来执行原方法，不破坏现场</text>
<text x="826" y="990.3">3. 新增失败时用replacementImplementationGenerator的结果来替换方法实现，</text>
<text x="826" y="999.7">替换时，把原方法实现注入新方法中，做到新方法执行完自己的逻辑之后，回头能执行</text>
<text x="826" y="1009.3">原方法实现，不破坏现场</text>
<text x="826" y="1019" class="r">4. 这样就做到了发送dealloc消息时，中间加了一层自定义逻辑，而不破坏现场，</text>
<text x="826" y="1028.7" class="r">这层逻辑就会调用DeallocatingObservable, messageSentWithParameters</text>
</g>
<g id="node-ensure-swizzled">
<rect class="bx" x="812.4" y="1045" width="249.1" height="55"/>
<text x="815" y="1054" class="r">Swizzled宏的关键方法，确保这个selector被正确替换:</text>
<text x="815" y="1061.3">-(<tspan class="k">BOOL</tspan>)ensureSwizzledSelector:(<tspan class="k">SEL</tspan>)selector</text>
<text x="895.5" y="1068">ofClass:(Class)class</text>
<text x="826" y="1074.7">newImplementationGenerator:(<tspan class="k">IMP</tspan>(^)())newImplementationGenerator</text>
<text x="815" y="1081.3">replacementImplementationGenerator:(<tspan class="k">IMP</tspan> (^)(<tspan class="k">IMP</tspan></text>
<text x="815" y="1088">originalImplementation))replacementImplementationGenerator</text>
<text x="902" y="1094.7">error:(<tspan class="t">NSError</tspan> **)error</text>
</g>

<g id="bar-optimize">
<rect class="bx" x="27" y="1346" width="1045" height="23"/>
<text x="549" y="1362.5" text-anchor="middle"><tspan class="sec">优化环节</tspan><tspan class="ss">（对于通用方法，这个环节没有经过消息转发，只有第一次调用时需要方法替换操作，所以速度很快）</tspan></text>
</g>
<g id="code-optimize" class="c65">
<rect class="bx" x="27" y="1388" width="390" height="540"/>
<text x="30.7" y="1397.4" class="c">// 例子:&#160;&#160;SWIZZLE_OBSERVE_METHOD(void, id)&#160;&#160;这个宏展开就是下面这个category</text>
<text x="30.7" y="1405.3"><tspan class="k">@interface</tspan> RXObjCRuntime (swizzle_void_id)</text>
<text x="30.7" y="1413.3" class="k">@end</text>
<text x="30.7" y="1429.3"><tspan class="k">@implementation</tspan> RXObjCRuntime(swizzle_void_id)</text>
<text x="30.7" y="1436.9">+(<tspan class="k">void</tspan>)example_void_id:(<tspan class="k">id</tspan>)id_0{}</text>
<text x="30.7" y="1444.9">-(<tspan class="k">BOOL</tspan>)swizzle_void_id:(Class <tspan class="k">__nonnull</tspan>)class</text>
<text x="85.5" y="1452.5">selector:(<tspan class="k">SEL</tspan>)selector</text>
<text x="97.2" y="1460.5">error:(<tspan class="t">NSError</tspan> ** <tspan class="k">__nonnull</tspan>)error {</text>
<text x="46.4" y="1468.5"><tspan class="k">__unused SEL</tspan> rxSelector = <tspan class="u">RX_selector</tspan>(selector);</text>
<text x="46.4" y="1476.1"><tspan class="k">IMP</tspan> (^newImplementationGenerator)() = ^() {</text>
<text x="62" y="1483.6"><tspan class="k">__block IMP</tspan> thisIMP = <tspan class="k">nil</tspan>;</text>
<text x="62" y="1491.6"><tspan class="k">id</tspan> newImplementation = ^<tspan class="k">void</tspan>(<tspan class="k">__unsafe_unretained id self</tspan>, <tspan class="k">id</tspan> id_0) {</text>
<text x="77.7" y="1499.6"><tspan class="k">id</tspan>&lt;<tspan class="u">RXMessageSentObserver</tspan>&gt; observer = <tspan class="t">objc_getAssociatedObject</tspan>(<tspan class="k">self</tspan>, rxSelector);</text>
<text x="77.7" y="1515.2"><tspan class="k">if</tspan> (observer != <tspan class="k">nil</tspan> &amp;&amp; observer.<tspan class="u">targetImplementation</tspan> == thisIMP) {</text>
<text x="93.3" y="1523.2">[observer <tspan class="u">messageSentWithParameters</tspan>:<tspan class="k">@[</tspan>((id_0) ?: [<tspan class="t">NSNull</tspan> <tspan class="t">null</tspan>])<tspan class="k">]</tspan>];</text>
<text x="77.7" y="1530.8">}</text>
<text x="77.7" y="1546.3"><tspan class="k">struct objc_super</tspan> superInfo = {</text>
<text x="93.3" y="1554.3">.<tspan class="k">receiver</tspan> = <tspan class="k">self</tspan>,</text>
<text x="93.3" y="1561.9">.<tspan class="k">super_class</tspan> = <tspan class="t">class_getSuperclass</tspan>(class)</text>
<text x="77.7" y="1569.9">};</text>
<text x="77.7" y="1585.5"><tspan class="k">void</tspan> (*msgSend)(<tspan class="k">struct objc_super</tspan> *, <tspan class="k">SEL</tspan>, <tspan class="k">id</tspan> id_0)</text>
<text x="93.3" y="1593.5">= (<tspan class="k">__typeof__</tspan>(msgSend))<tspan class="t">objc_msgSendSuper</tspan>;</text>
<text x="77.7" y="1601.1"><tspan class="k">return</tspan> msgSend(&amp;superInfo, selector, id_0);</text>
<text x="62" y="1609">};</text>
<text x="62" y="1624.6">thisIMP = <tspan class="t">imp_implementationWithBlock</tspan>(newImplementation);</text>
<text x="62" y="1632.6"><tspan class="k">return</tspan> thisIMP;</text>
<text x="46.4" y="1640.2">};</text>
<text x="46.4" y="1655.8"><tspan class="k">IMP</tspan> (^replacementImplementationGenerator)(<tspan class="k">IMP</tspan>) = ^(<tspan class="k">IMP</tspan> originalImplementation) {</text>
<text x="62" y="1663.8"><tspan class="k">__block void</tspan> (*originalImplementationTyped)(<tspan class="k">__unsafe_unretained id</tspan>, <tspan class="k">SEL</tspan>, <tspan class="k">id</tspan> id_0)</text>
<text x="77.7" y="1671.8">= (<tspan class="k">__typeof__</tspan>(originalImplementationTyped))(originalImplementation);</text>
<text x="62" y="1686.9"><tspan class="k">__block IMP</tspan> thisIMP = <tspan class="k">nil</tspan>;</text>
<text x="62" y="1694.9"><tspan class="k">id</tspan> implementationReplacement = ^<tspan class="k">void</tspan>(<tspan class="k">__unsafe_unretained id self</tspan>, <tspan class="k">id</tspan> id_0) {</text>
<text x="77.7" y="1702.9"><tspan class="k">id</tspan>&lt;<tspan class="u">RXMessageSentObserver</tspan>&gt; observer = <tspan class="t">objc_getAssociatedObject</tspan>(<tspan class="k">self</tspan>, rxSelector);</text>
<text x="77.7" y="1718.5"><tspan class="k">if</tspan> (observer != <tspan class="k">nil</tspan> &amp;&amp; observer.<tspan class="u">targetImplementation</tspan> == thisIMP) {</text>
<text x="93.3" y="1726.1">[observer <tspan class="u">messageSentWithParameters</tspan>:<tspan class="k">@[</tspan>((id_0) ?: [<tspan class="t">NSNull</tspan> <tspan class="t">null</tspan>])<tspan class="k">]</tspan>];</text>
<text x="77.7" y="1734.1">}</text>
<text x="77.7" y="1749.6"><tspan class="k">return</tspan> originalImplementationTyped(<tspan class="k">self</tspan>, selector, id_0);</text>
<text x="62" y="1757.2">};</text>
<text x="62" y="1772.8">thisIMP = <tspan class="t">imp_implementationWithBlock</tspan>(implementationReplacement);</text>
<text x="62" y="1780.8"><tspan class="k">return</tspan> thisIMP;</text>
<text x="46.4" y="1788.3">};</text>
<text x="46.4" y="1803.9"><tspan class="k">return</tspan> [<tspan class="k">self</tspan> <tspan class="u">ensureSwizzledSelector</tspan>:selector</text>
<text x="157.7" y="1811.9"><tspan class="u">ofClass</tspan>:class</text>
<text x="81.7" y="1819.9"><tspan class="u">newImplementationGenerator</tspan>:newImplementationGenerator</text>
<text x="50.7" y="1827.9"><tspan class="u">replacementImplementationGenerator</tspan>:replacementImplementationGenerator</text>
<text x="165.7" y="1835.5"><tspan class="u">error</tspan>:error];</text>
<text x="30.7" y="1843.5">}</text>
<text x="30.7" y="1859">+(<tspan class="k">void</tspan>)load {</text>
<text x="46.4" y="1866.6"><tspan class="k">__unused SEL</tspan> exampleSelector = <tspan class="k">@selector</tspan>(example_void_id:);</text>
<text x="46.4" y="1874.6">[<tspan class="k">self</tspan> <tspan class="u">registerOptimizedObserver</tspan>:^<tspan class="k">BOOL</tspan>(<tspan class="u">RXObjCRuntime</tspan> * <tspan class="k">__nonnull self</tspan>, Class <tspan class="k">__nonnull</tspan> class,</text>
<text x="197.3" y="1882.6"><tspan class="k">SEL __nonnull</tspan> selector, <tspan class="t">NSError</tspan> **<tspan class="k">__nonnull</tspan> error) {</text>
<text x="62" y="1890.2"><tspan class="k">return</tspan> [<tspan class="k">self</tspan> <tspan class="u">swizzle_void_id</tspan>:class <tspan class="u">selector</tspan>:selector <tspan class="u">error</tspan>:error];</text>
<text x="46.4" y="1898.2">} <tspan class="u">encodedAs</tspan>:exampleSelector];</text>
<text x="30.7" y="1905.8">}</text>
<text x="30.7" y="1921.3" class="k">@end</text>
</g>
<g id="note-opt-1">
<path class="bx" d="M449 1386 H615 L655.5 1398 V1451 H449 Z"/><path class="fold" d="M615 1386 Q619 1395 655.5 1398"/>
<text x="452.5" y="1396.2">1. 获取rx_selector =RX_selector(selector)</text>
<text x="452.5" y="1404.6">2. 新建一个subject=MessageSentObservable</text>
<text x="452.5" y="1413">3. 将subject通过objc_setAssociatedObject, key就是1中的</text>
<text x="452.5" y="1420.6">rx_selector</text>
<text x="452.5" y="1428.6">4. 调用imp=RX_ensure_observing(self, selector, &amp;error)</text>
<text x="452.5" y="1436.6">5.设置subject的targetImplementation为imp</text>
<text x="452.5" y="1445" class="r">6. 这个subject是为了接收最后添加的自定义逻辑发出的数据流</text>
</g>
<g id="node-opt-sentMessage">
<rect class="bx" x="471" y="1483.4" width="92" height="49.6"/>
<text x="474" y="1499.7"><tspan class="t">NSObject</tspan>.rx_sentMessage</text>
<text x="474" y="1506.5">(selector Selector)</text>
<text x="474" y="1513">-&gt;</text>
<text x="474" y="1519.5"><tspan class="u">Observable</tspan>&lt;[<tspan class="t">AnyObject</tspan>]&gt;</text>
</g>
<g id="note-opt-2">
<path class="bx" d="M677 1386 H843 L883 1398 V1451 H677 Z"/><path class="fold" d="M843 1386 Q847 1395 883 1398"/>
<text x="680" y="1408.8">1. 以返回值为void，有一个id类型参数的方法为例子，对应</text>
<text x="680" y="1416" class="c">SWIZZLE_OBSERVE_METHOD(void, id)</text>
<text x="680" y="1424">2. RXInterceptWithOptimizedObserver对应的就是左侧category的</text>
<text x="680" y="1432.4">load方法中将执行的block(swizzle_void_id方法)</text>
</g>
<g id="node-opt-optimized">
<rect class="bx" x="709.6" y="1483.4" width="140.9" height="49.6"/>
<text x="712" y="1495.5" class="r">优化步骤优化是因为这一步没有经过消息转发，速</text>
<text x="712" y="1504" class="r">度肯定比经过OC Runtime的消息转发快):</text>
<text x="712" y="1511.5" class="u">RXInterceptWithOptimizedObserver</text>
<text x="712" y="1517.8">(<tspan class="k">self</tspan>,swizzlingImplementorClass,</text>
<text x="712" y="1524.6">selector, error)</text>
</g>
<g id="note-opt-3">
<path class="bx" d="M904.6 1386 H1114 L1164 1398 V1451 H904.6 Z"/><path class="fold" d="M1114 1386 Q1119 1395 1164 1398"/>
<text x="907" y="1406.7" class="r">方法的新增或者替换:</text>
<text x="907" y="1415">1.此过程跟dealloc类似，不再赘述</text>
<text x="907" y="1424" class="r">2. 最后结果就做到了发送selector消息时，中间加了一层自定义逻辑，而不破坏现场，</text>
<text x="907" y="1433.7" class="r">这层逻辑就会调用MessageSentObservable, messageSentWithParameters</text>
</g>
<g id="node-opt-swizzle">
<rect class="bx" x="947.4" y="1483.4" width="157.6" height="54.6"/>
<text x="950.6" y="1500.6" class="r">方法添加或者替换:</text>
<text x="950.6" y="1509.4">-(<tspan class="k">BOOL</tspan>)swizzle_void_id:(Class)class</text>
<text x="950.6" y="1517.4">selector:(<tspan class="k">SEL</tspan>)selector</text>
<text x="950.6" y="1525.4">error:(<tspan class="t">NSError</tspan> **)error</text>
</g>

<g id="bar-general">
<rect class="bx" x="27" y="1976" width="1045" height="22"/>
<text class="sec" x="549" y="1992" text-anchor="middle">通用环节</text>
</g>
<g id="code-general" class="c66">
<rect class="bx" x="27" y="2030" width="358" height="456"/>
<text x="30.7" y="2040.3"><tspan class="r">这个宏展开之后，就是下面的方法(</tspan>这个是替换forwardInvocation:方法，</text>
<text x="30.7" y="2048.9">respondsToSelector:, class, methodSignatureForSelector:<tspan class="r">类似</tspan>):</text>
<text x="30.7" y="2057" class="c">//SWIZZLE_INFRASTRUCTURE_METHOD(</text>
<text x="30.7" y="2065.1" class="c">//&#160;&#160;&#160;&#160;void,</text>
<text x="30.7" y="2073.3" class="c">//&#160;&#160;&#160;&#160;swizzleForwardInvocation,</text>
<text x="30.7" y="2081.4" class="c">//&#160;&#160;&#160;&#160;,</text>
<text x="30.7" y="2089.6" class="c">//&#160;&#160;&#160;&#160;@selector(forwardInvocation:),</text>
<text x="30.7" y="2097.7" class="c">//&#160;&#160;&#160;&#160;FORWARD_BODY,</text>
<text x="30.7" y="2105.9" class="c">//&#160;&#160;&#160;&#160;NSInvocationRef</text>
<text x="30.7" y="2114" class="c">//)</text>
<text x="30.7" y="2121">-(<tspan class="k">BOOL</tspan>)swizzleForwardInvocation:(Class <tspan class="k">__nonnull</tspan>)class error:(<tspan class="t">NSError</tspan> **<tspan class="k">__nonnull</tspan>)error</text>
<text x="30.7" y="2128.6">{</text>
<text x="46.6" y="2136.6"><tspan class="k">SEL</tspan> selector = <tspan class="k">@selector</tspan>(forwardInvocation:);</text>
<text x="46.6" y="2144.3"><tspan class="k">__unused SEL</tspan> rxSelector = <tspan class="u">RX_selector</tspan>(selector);</text>
<text x="46.6" y="2152.3"><tspan class="k">IMP</tspan> (^newImplementationGenerator)() = ^() {</text>
<text x="62.5" y="2160"><tspan class="k">__block IMP</tspan> thisIMP = <tspan class="k">nil</tspan>;</text>
<text x="62.5" y="2167.6"><tspan class="k">id</tspan> newImplementation = ^<tspan class="k">void</tspan>(<tspan class="k">__unsafe_unretained id self</tspan>,</text>
<text x="176.7" y="2175.6"><tspan class="u">NSInvocationRef</tspan> NSInvocationRef_0) {</text>
<text x="78.4" y="2183.3"><tspan class="k">if</tspan> (<tspan class="u">RX_forward_invocation</tspan>(<tspan class="k">self</tspan>, NSInvocationRef_0)) { <tspan class="k">return</tspan>; }</text>
<text x="78.4" y="2199"><tspan class="k">struct objc_super</tspan> superInfo = {</text>
<text x="94.3" y="2207">.<tspan class="k">receiver</tspan> = <tspan class="k">self</tspan>,</text>
<text x="94.3" y="2214.6">.<tspan class="k">super_class</tspan> = <tspan class="t">class_getSuperclass</tspan>(class)</text>
<text x="78.4" y="2222.6">};</text>
<text x="78.4" y="2238.3"><tspan class="k">void</tspan> (*msgSend)(<tspan class="k">struct objc_super</tspan> *, <tspan class="k">SEL</tspan>, <tspan class="u">NSInvocationRef</tspan> NSInvocationRef_0)</text>
<text x="94.3" y="2246">= (<tspan class="k">__typeof__</tspan>(msgSend))<tspan class="t">objc_msgSendSuper</tspan>;</text>
<text x="78.4" y="2254"><tspan class="k">return</tspan> msgSend(&amp;superInfo, selector, NSInvocationRef_0);</text>
<text x="62.5" y="2261.6">};</text>
<text x="62.5" y="2277.3">thisIMP = <tspan class="t">imp_implementationWithBlock</tspan>(newImplementation);</text>
<text x="62.5" y="2285"><tspan class="k">return</tspan> thisIMP;</text>
<text x="46.6" y="2293">};</text>
<text x="46.6" y="2308.6"><tspan class="k">IMP</tspan> (^replacementImplementationGenerator)(<tspan class="k">IMP</tspan>) = ^(<tspan class="k">IMP</tspan> originalImplementation) {</text>
<text x="62.5" y="2316.3"><tspan class="k">__block void</tspan> (*originalImplementationTyped)(<tspan class="k">__unsafe_unretained id</tspan>, <tspan class="k">SEL</tspan>,</text>
<text x="236.7" y="2324.3"><tspan class="u">NSInvocationRef</tspan> NSInvocationRef_0)</text>
<text x="78.4" y="2332">= (<tspan class="k">__typeof__</tspan>(originalImplementationTyped))(originalImplementation);</text>
<text x="62.5" y="2347.6"><tspan class="k">__block IMP</tspan> thisIMP = <tspan class="k">nil</tspan>;</text>
<text x="62.5" y="2355.6"><tspan class="k">id</tspan> implementationReplacement = ^<tspan class="k">void</tspan>(<tspan class="k">__unsafe_unretained id self</tspan>,</text>
<text x="209" y="2363.3"><tspan class="u">NSInvocationRef</tspan> NSInvocationRef_0) {</text>
<text x="78.4" y="2371.3"><tspan class="k">if</tspan> (<tspan class="u">RX_forward_invocation</tspan>(<tspan class="k">self</tspan>, NSInvocationRef_0)) { <tspan class="k">return</tspan>; }</text>
<text x="78.4" y="2387"><tspan class="k">return</tspan> originalImplementationTyped(<tspan class="k">self</tspan>, selector, NSInvocationRef_0);</text>
<text x="62.5" y="2394.6">};</text>
<text x="62.5" y="2410.3">thisIMP = <tspan class="t">imp_implementationWithBlock</tspan>(implementationReplacement);</text>
<text x="62.5" y="2418"><tspan class="k">return</tspan> thisIMP;</text>
<text x="46.6" y="2426">};</text>
<text x="46.6" y="2441.6"><tspan class="k">return</tspan> [<tspan class="k">self</tspan> <tspan class="u">ensureSwizzledSelector</tspan>:selector</text>
<text x="157.7" y="2449.3"><tspan class="u">ofClass</tspan>:class</text>
<text x="81.7" y="2457.3"><tspan class="u">newImplementationGenerator</tspan>:newImplementationGenerator</text>
<text x="50.7" y="2465"><tspan class="u">replacementImplementationGenerator</tspan>:replacementImplementationGenerator</text>
<text x="165.7" y="2473"><tspan class="u">error</tspan>:error];</text>
<text x="30.7" y="2480.6">}</text>
</g>
<g id="note-gen-ref">
<path class="bx" d="M395 2034 H455 L471 2042 V2072 H395 Z"/><path class="fold" d="M455 2034 Q457 2040 471 2042"/>
<text x="398" y="2050">参考“<tspan class="r">优化步骤</tspan>”的注释</text>
</g>
<g id="note-gen-selector">
<path class="bx" d="M542 2030 H723 L763 2040 V2080 H542 Z"/><path class="fold" d="M723 2030 Q727 2037 763 2040"/>
<text x="545" y="2042.3" class="r">selector方法实现的替换(很重要，把消息转发走):</text>
<text x="545" y="2050.7">1.给中间类添加rxSelector=RX_selector(selector)方法，</text>
<text x="545" y="2059">其实现是原始方法的实现</text>
<text x="545" y="2067.3">2.把selector的实现替换为_objc_msgForward，使得进入消息转发</text>
</g>
<g id="note-gen-forward">
<path class="bx" d="M444 2087 H621 L666 2099 V2150 H444 Z"/><path class="fold" d="M621 2087 Q625 2096 666 2099"/>
<text x="447" y="2096.6" class="r">消息转发环节概述:</text>
<text x="447" y="2105">1. 首先去<tspan class="u">forwardedSelectorsByClass</tspan>中找方法实现</text>
<text x="447" y="2113.7">2. 如果找到了，说明之前已经做了swizzle，直接返回_objc_msgForward，</text>
<text x="447" y="2122">使得进入OC消息转发</text>
<text x="447" y="2130.3">3. 否则，进入swizzle环节</text>
<text x="447" y="2138.7">4.给需要处理observer的方法添加中间方法或者替换方法实现，并把原始方法的</text>
<text x="447" y="2147">实现设置为_objc_msgForward，让其转发</text>
</g>
<g id="note-gen-ensure">
<path class="bx" d="M704 2098 H884 L926 2110 V2155 H704 Z"/><path class="fold" d="M884 2098 Q888 2107 926 2110"/>
<text x="707" y="2107" class="r">为什么要替换这几个方法:</text>
<text x="707" y="2115.5">1. forwardInvocation:方法是处理消息转发的关键</text>
<text x="707" y="2125.3">2. 至于另外的几个方法，有的是为了做到欺骗用户者的作用，比如class函</text>
<text x="707" y="2134.7">数，做到像原生KVO类似的效果，虽然中间添加了一层</text>
<text x="707" y="2144"><tspan class="r">_RX_namespace_xxxx</tspan>的类，但用户使用class时还是返回了原类</text>
</g>
<g id="note-gen-swizzle">
<path class="bx" d="M877 2013 H1055 L1099 2025 V2080 H877 Z"/><path class="fold" d="M1055 2013 Q1059 2022 1099 2025"/>
<text x="880" y="2037" class="r">这里是函数的新增或者替换，逻辑跟其他环节的类似，不再赘述:</text>
<text x="880" y="2046.5">1. 唯一的区别是在增加自定义逻辑时，直接返回了，不再往下执行</text>
</g>
<g id="note-gen-invoke">
<path class="bx" d="M975 2088 H1150 L1197 2100 V2143 H975 Z"/><path class="fold" d="M1150 2088 Q1154 2097 1197 2100"/>
<text x="978" y="2098" class="r">1. 增加自定义逻辑，发送selector消息时，中间加了一层逻辑，而不破</text>
<text x="978" y="2110.5" class="r">坏现场，这层逻辑就会调用MessageSentObservable,</text>
<text x="978" y="2118.5" class="r">messageSentWithParameters</text>
<text x="978" y="2128"><tspan class="r">2. 在最后</tspan>[invocation <tspan class="u">invokeWithTarget</tspan>:<tspan class="k">self</tspan>]，不破坏现场</text>
</g>
<g id="node-gen-sentMessage">
<rect class="bx" x="395" y="2192.7" width="92" height="38"/>
<text x="398" y="2203.7"><tspan class="t">NSObject</tspan>.rx_sentMessage</text>
<text x="398" y="2210.3">(selector Selector)</text>
<text x="398" y="2217">-&gt;</text>
<text x="398" y="2223.7"><tspan class="u">Observable</tspan>&lt;[<tspan class="t">AnyObject</tspan>]&gt;</text>
</g>
<g id="node-gen-forwarding">
<rect class="bx" x="498" y="2192.7" width="163" height="70.6"/>
<text x="501.8" y="2205.3" class="g">给需要处理observer的方法添加中间方法，并把原</text>
<text x="501.8" y="2214.7" class="g">始方法的实现设置为_objc_msgForward，让其转发</text>
<text x="501.8" y="2223.7">-(<tspan class="k">BOOL</tspan>)observeByForwardingMessages:</text>
<text x="501.8" y="2231.3">(Class)swizzlingImplementorClass</text>
<text x="505.4" y="2239.3">selector:(<tspan class="k">SEL</tspan>)selector</text>
<text x="501.8" y="2247">target:(<tspan class="k">id __nonnull</tspan>)target</text>
<text x="501.8" y="2254.7">error:(<tspan class="t">NSError</tspan> **<tspan class="k">__nonnull</tspan>)error</text>
</g>
<g id="node-gen-ensure">
<rect class="bx" x="671.6" y="2192.7" width="178.9" height="69.6"/>
<text x="674" y="2213.3" class="g">确保这个原始类的三个关键方法被替换处理了，</text>
<text x="674" y="2222.7" class="g">不然无法转发消息</text>
<text x="674" y="2231">-(<tspan class="k">BOOL</tspan>)ensureForwardingMethodsAreSwizzled:</text>
<text x="674" y="2239">(Class <tspan class="k">__nonnull</tspan>)class</text>
<text x="674" y="2247">error:(<tspan class="t">NSError</tspan> ** <tspan class="k">__nonnull</tspan>)error</text>
</g>
<g id="node-gen-swizzle">
<rect class="bx" x="861" y="2192.7" width="135" height="69.6"/>
<text x="863.8" y="2218" class="r">新增或替换转发处理方法:</text>
<text x="863.8" y="2226.3">-(<tspan class="k">BOOL</tspan>)swizzleForwardInvocation:</text>
<text x="863.8" y="2234.3">(Class)class</text>
<text x="863.8" y="2242.3">error:(<tspan class="t">NSError</tspan> **)error</text>
</g>
<g id="node-gen-invoke">
<rect class="bx" x="1012" y="2192.7" width="136" height="69.6"/>
<text x="1015.4" y="2213.7" class="r">这里是增加自定义逻辑，拦截函数调用:</text>
<text x="1015.4" y="2222.3" class="k">static BOOL</text>
<text x="1015.4" y="2230.3">RX_forward_invocation(<tspan class="k">id</tspan></text>
<text x="1015.4" y="2238" class="k">__nonnull __unsafe_unretained</text>
<text x="1015.4" y="2245.7"><tspan class="k">self</tspan>, <tspan class="t">NSInvocation</tspan> *invocation)</text>
</g>

<g id="lifelines">
<line class="ll" x1="67.6" y1="720" x2="67.6" y2="880"/>
<line class="ll" x1="176" y1="715" x2="176" y2="880"/>
<line class="ll" x1="297.5" y1="714" x2="297.5" y2="880"/>
<line class="ll" x1="417" y1="716" x2="417" y2="880"/>
<line class="ll" x1="582" y1="716" x2="582" y2="880"/>
<line class="ll" x1="763.5" y1="715" x2="763.5" y2="880"/>
<line class="ll" x1="950" y1="737" x2="950" y2="880"/>
<rect class="ac" x="65.1" y="736" width="5" height="54.7"/>
<rect class="ac" x="173.5" y="736" width="5" height="54.7"/>
<rect class="ac" x="295" y="736" width="5" height="54.7"/>
<rect class="ac" x="414.5" y="736" width="5" height="54.7"/>
<rect class="ac" x="579.5" y="779" width="5" height="76"/>
<rect class="ac" x="761" y="801" width="5" height="65.7"/>
<rect class="ac" x="947.5" y="801" width="5" height="60.7"/>
<line class="ll" x1="468.6" y1="1082" x2="468.6" y2="1293"/>
<line class="ll" x1="725.7" y1="1083.3" x2="725.7" y2="1293"/>
<line class="ll" x1="937" y1="1100" x2="937" y2="1293"/>
<rect class="ac" x="466.1" y="1131" width="5" height="55.7"/>
<rect class="ac" x="723.2" y="1131" width="5" height="55.7"/>
<rect class="ac" x="934.5" y="1131" width="5" height="55.7"/>
<line class="ll" x1="517.3" y1="1533" x2="517.3" y2="1927"/>
<line class="ll" x1="779.8" y1="1533" x2="779.8" y2="1927"/>
<line class="ll" x1="1025.6" y1="1538" x2="1025.6" y2="1927"/>
<rect class="ac" x="514.8" y="1581.5" width="5" height="113.5"/>
<rect class="ac" x="777.3" y="1581.5" width="5" height="113.5"/>
<rect class="ac" x="1023.1" y="1581.5" width="5" height="113.5"/>
<line class="ll" x1="441" y1="2230.7" x2="441" y2="2532"/>
<line class="ll" x1="579.4" y1="2263.3" x2="579.4" y2="2532"/>
<line class="ll" x1="760.5" y1="2262.3" x2="760.5" y2="2532"/>
<line class="ll" x1="928.7" y1="2262.3" x2="928.7" y2="2532"/>
<line class="ll" x1="1080" y1="2262.3" x2="1080" y2="2532"/>
<rect class="ac" x="438.5" y="2311.7" width="5" height="114.3"/>
<rect class="ac" x="576.9" y="2311.7" width="5" height="114.3"/>
<rect class="ac" x="758" y="2311.7" width="5" height="114.3"/>
<rect class="ac" x="926.2" y="2311.7" width="5" height="114.3"/>
<rect class="ac" x="1077.5" y="2311.7" width="5" height="114.3"/>
</g>

<g id="connectors">
<line class="ll" x1="153.3" y1="352.7" x2="194.3" y2="309.8" marker-end="url(#ho)"/>
<line class="ll" x1="273" y1="352.7" x2="228" y2="309.8" marker-end="url(#ho)"/>
<line class="ll" x1="118" y1="655.7" x2="98" y2="671"/>
<line class="ll" x1="308" y1="601.7" x2="300" y2="671"/>
<line class="ll" x1="414" y1="650" x2="417" y2="671"/>
<line class="ll" x1="582" y1="645" x2="582" y2="671"/>
<line class="ll" x1="753" y1="623" x2="760" y2="671"/>
<line class="ll" x1="955" y1="634" x2="950" y2="671"/>
<line class="msg" x1="70.1" y1="736.7" x2="173.5" y2="736.7" marker-end="url(#oa)"/>
<text class="lb" x="126.5" y="729.5" text-anchor="middle">注册监听方法的调用</text>
<line class="msg" x1="178.5" y1="749" x2="295" y2="749" marker-end="url(#oa)"/>
<text class="lb" x="233" y="739.5" text-anchor="middle" style="font-size:7.5px">添加<tspan class="r">两重互斥锁</tspan>，</text>
<text class="lb" x="182" y="748" style="font-size:6.5px">来防止多个框架同时做Swizzled工作</text>
<line class="msg" x1="300" y1="749.7" x2="414.5" y2="749.7" marker-end="url(#fa)"/>
<text class="lb" x="360.5" y="735.7" text-anchor="middle">[selector==<tspan class="u">deallocSelector</tspan>]</text>
<text class="lb" x="360.5" y="744" text-anchor="middle">针对dealloc函数特殊处理</text>
<polyline class="msg" points="300,750 347,796.7 579.5,796.7" marker-end="url(#fa)"/>
<text class="lb" x="499" y="784.3" text-anchor="middle">[针对selector不是dealloc的情况，先对原始类做处理]</text>
<text class="lb" x="499" y="792.7" text-anchor="middle">这里主要是新建一个继承原始类的“<tspan class="r">中间类</tspan>”</text>
<polyline class="msg" points="584.5,798 628,816.7 761,816.7" marker-end="url(#fa)"/>
<text class="lb" x="691" y="803.7" text-anchor="middle">[如果selector的方法签名在“<tspan class="r">优化方法签名列表</tspan>”中]</text>
<text class="lb" x="691" y="812" text-anchor="middle">执行优化block，替换指定方法签名的方法的实现</text>
<polyline class="msg" points="584.5,799 628,845 947.5,845" marker-end="url(#fa)"/>
<text class="lb" x="831" y="831.3" text-anchor="middle">[对于通用方法]</text>
<text class="lb" x="831" y="840.3" text-anchor="middle">进入“<tspan class="r">消息转发</tspan>”的环节</text>
<line class="ll" x1="496" y1="1013" x2="479" y2="1045"/>
<line class="ll" x1="725.7" y1="1023" x2="725.7" y2="1045"/>
<line class="ll" x1="937" y1="1035" x2="937" y2="1045"/>
<line class="msg" x1="368.3" y1="1131" x2="661" y2="1076"/>
<line class="msg" x1="471.1" y1="1145" x2="723.2" y2="1145" marker-end="url(#fa)"/>
<text class="lb" x="545.7" y="1131">[中间省略了很多环节，参见“<tspan class="r">主流程</tspan>”]</text>
<text class="lb" x="545.7" y="1140.3">下面直接进入“<tspan class="r">dealloc”特殊处理环节</tspan></text>
<line class="msg" x1="728.2" y1="1145" x2="934.5" y2="1145" marker-end="url(#oa)"/>
<text class="lb" x="839" y="1138.7" text-anchor="middle">方法的新增或者替换</text>
<line class="ll" x1="538" y1="1451" x2="527.5" y2="1483.4"/>
<line class="ll" x1="780" y1="1451" x2="780" y2="1483.4"/>
<line class="ll" x1="1030.4" y1="1451" x2="1027.7" y2="1483.4"/>
<line class="msg" x1="519.8" y1="1609.3" x2="777.3" y2="1609.3" marker-end="url(#fa)"/>
<text class="lb" x="598" y="1595.2">[中间省略了很多环节，参见“<tspan class="r">主流程</tspan>”]</text>
<text class="lb" x="598" y="1605">下面直接进入“<tspan class="r">优化步骤</tspan>”环节</text>
<line class="msg" x1="782.3" y1="1609.3" x2="1023.1" y2="1609.3" marker-end="url(#oa)"/>
<text class="lb" x="911.5" y="1603" text-anchor="middle">方法的新增或者替换</text>
<line class="ll" x1="440" y1="2072" x2="441" y2="2192.7"/>
<line class="ll" x1="546" y1="2150" x2="579.4" y2="2192.7"/>
<line class="ll" x1="620" y1="2080" x2="579.4" y2="2192.7"/>
<line class="ll" x1="798" y1="2155" x2="779" y2="2192.7"/>
<line class="ll" x1="968" y1="2080" x2="940" y2="2192.7"/>
<line class="ll" x1="1084" y1="2143" x2="1081" y2="2192.7"/>
<line class="msg" x1="443.5" y1="2340" x2="576.9" y2="2340" marker-end="url(#fa)"/>
<text class="lb" x="455" y="2325.5">[中间省略了很多环节，参见“<tspan class="r">主流程</tspan>”]</text>
<text class="lb" x="455" y="2335.5">下面直接进入“<tspan class="r">通用消息转发</tspan>”环节</text>
<line class="msg" x1="581.9" y1="2340" x2="758" y2="2340" marker-end="url(#oa)"/>
<text class="lb" x="677" y="2333.7" text-anchor="middle">为消息转发做准备</text>
<line class="msg" x1="763" y1="2340" x2="926.2" y2="2340" marker-end="url(#oa)"/>
<text class="lb" x="851.5" y="2333.7" text-anchor="middle">消息转发方法forwardInvocation:的新增或者替换</text>
<line class="msg" x1="931.2" y1="2340" x2="1077.5" y2="2340" marker-end="url(#oa)"/>
<text class="lb" x="1010.6" y="2333.7" text-anchor="middle">转发实现环节</text>
</g>
</svg>
